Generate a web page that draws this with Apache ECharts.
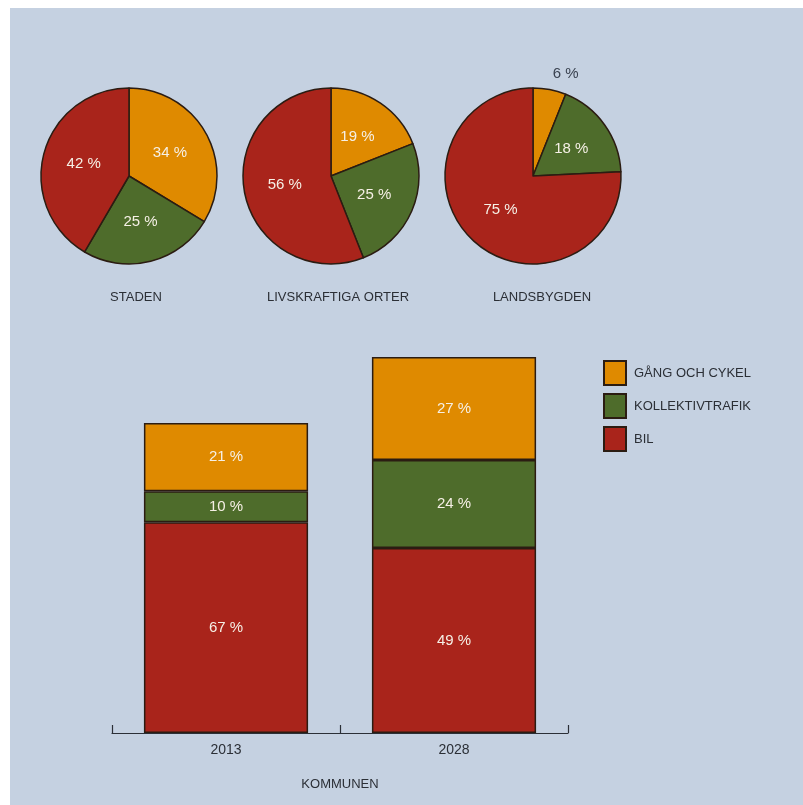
<!DOCTYPE html>
<html><head><meta charset="utf-8">
<script src="https://cdn.jsdelivr.net/npm/echarts@6/dist/echarts.min.js"></script>
<style>html,body{margin:0;padding:0;background:#fff}#c{width:803px;height:805px}</style>
</head><body><div id="c"></div>
<script>
const modes = ['GÅNG OCH CYKEL', 'KOLLEKTIVTRAFIK', 'BIL'];
const pieTitles = ['STADEN', 'LIVSKRAFTIGA ORTER', 'LANDSBYGDEN'];
const pieStaden = [34, 25, 42];
const pieOrter = [19, 25, 56];
const pieLands = [6, 18, 75];
const years = ['2013', '2028'];
// bar heights (relative volumes), and printed share labels
const barGang = [22, 33.2];
const barKoll = [10, 28.4];
const barBil = [68, 59.7];
const lblGang = ['21 %', '27 %'];
const lblKoll = ['10 %', '24 %'];
const lblBil = ['67 %', '49 %'];

const colors = ['#df8a00', '#4e6c2b', '#a9241b'];
const border = '#2b1c12';
const font = 'Liberation Sans, Arial, sans-serif';
const lightText = '#f6f0e6';

function pieSeries(vals, cx, outsideIdx) {
  return {
    type: 'pie', radius: 88, center: [cx, 176], startAngle: 90, clockwise: true,
    avoidLabelOverlap: false, silent: true,
    itemStyle: { borderColor: border, borderWidth: 1.5 },
    label: { show: true, position: 'inside', formatter: '{c} %', color: lightText, fontSize: 15, fontFamily: font },
    labelLine: { show: false },
    data: vals.map((v, i) => {
      const d = { name: modes[i], value: v, itemStyle: { color: colors[i] } };
      if (i === outsideIdx) {
        d.label = { position: 'outside', color: '#3a4250', distanceToLabelLine: 0 };
        d.labelLine = { show: false, length: 16, length2: 0 };
      }
      return d;
    })
  };
}

function barSeries(idx, vals, lbls) {
  return {
    type: 'bar', name: modes[idx], stack: 'k', barWidth: '72%', silent: true,
    itemStyle: { color: colors[idx], borderColor: border, borderWidth: 1.5 },
    label: { show: true, position: 'inside', color: lightText, fontSize: 15, fontFamily: font,
      formatter: p => lbls[p.dataIndex] },
    data: vals
  };
}

const chart = echarts.init(document.getElementById('c'));
chart.setOption({
  backgroundColor: '#ffffff',
  animation: false,
  graphic: [{ type: 'rect', z: -10, shape: { x: 10, y: 8, width: 793, height: 797 }, style: { fill: '#c5d1e1' } }],
  title: [
    { text: pieTitles[0], left: 131, top: 286, textAlign: 'center', textStyle: { fontSize: 13, fontWeight: 'normal', color: '#2b2f36', fontFamily: font } },
    { text: pieTitles[1], left: 333, top: 286, textAlign: 'center', textStyle: { fontSize: 13, fontWeight: 'normal', color: '#2b2f36', fontFamily: font } },
    { text: pieTitles[2], left: 537, top: 286, textAlign: 'center', textStyle: { fontSize: 13, fontWeight: 'normal', color: '#2b2f36', fontFamily: font } }
  ],
  legend: {
    orient: 'vertical', left: 598, top: 355, itemWidth: 22, itemHeight: 24, itemGap: 7,
    icon: 'rect', data: modes, selectedMode: false,
    textStyle: { fontSize: 13, color: '#2b2f36', fontFamily: font, padding: [0, 0, 0, 3] }
  },
  grid: { left: 112, right: 235, top: 330, bottom: 72 },
  xAxis: {
    type: 'category', data: years,
    axisLine: { show: true, lineStyle: { color: '#2b2f36', width: 1.2 } },
    axisTick: { show: true, inside: true, length: 8, alignWithLabel: false, lineStyle: { color: '#2b2f36', width: 1.2 } },
    axisLabel: { fontSize: 14, color: '#2b2f36', margin: 10, fontFamily: font },
    name: 'KOMMUNEN', nameLocation: 'middle', nameGap: 45,
    nameTextStyle: { fontSize: 13, color: '#2b2f36', fontFamily: font }
  },
  yAxis: { type: 'value', min: 0, max: 130, show: false, splitLine: { show: false } },
  series: [
    pieSeries(pieStaden, 129, -1),
    pieSeries(pieOrter, 331, -1),
    pieSeries(pieLands, 533, 0),
    barSeries(2, barBil, lblBil),
    barSeries(1, barKoll, lblKoll),
    barSeries(0, barGang, lblGang)
  ]
});
</script></body></html>
